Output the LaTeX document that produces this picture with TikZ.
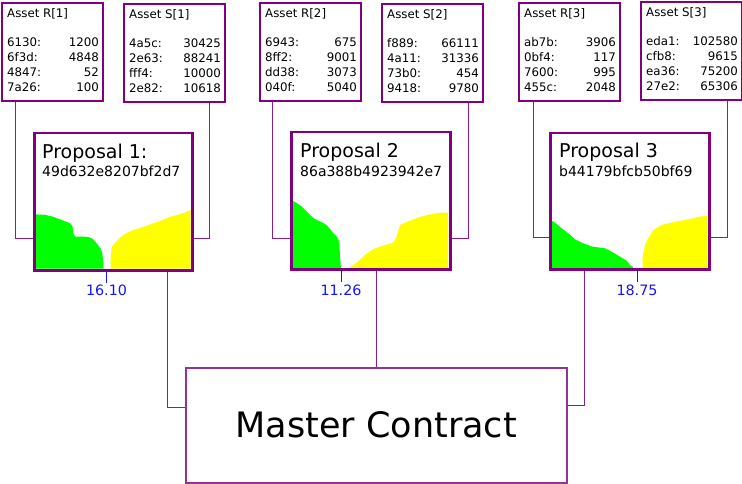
\documentclass[tikz,border=0pt]{standalone}
\usepackage{fontspec}
\setmainfont{DejaVu Sans}
\definecolor{boxpurple}{RGB}{128,0,128}
\definecolor{connpurple}{RGB}{140,30,140}
\definecolor{mpurple}{RGB}{150,50,150}
\definecolor{lblue}{RGB}{20,20,255}
\definecolor{cyellow}{RGB}{255,255,0}
\definecolor{cgreen}{RGB}{0,255,0}
\begin{document}
\begin{tikzpicture}[x=1pt,y=-1pt,
  assetbox/.style={draw=boxpurple, line width=2pt, minimum width=101pt, minimum height=98pt, inner sep=0pt, anchor=north west},
  propbox/.style={draw=boxpurple, line width=2.5pt, minimum width=158pt, minimum height=137pt, inner sep=0pt, anchor=north west},
  masterbox/.style={draw=mpurple, line width=1.5pt, minimum width=381pt, minimum height=115pt, inner sep=0pt, anchor=north west, font=\fontsize{35}{40}\selectfont},
  atext/.style={inner sep=0pt, font=\fontsize{11.8}{14}\selectfont},
  ptitle/.style={inner sep=0pt, anchor=base west, font=\fontsize{19}{22}\selectfont},
  phash/.style={inner sep=0pt, anchor=base west, font=\fontsize{14}{16}\selectfont},
  vlabel/.style={inner sep=0pt, anchor=base, text=lblue, font=\fontsize{14.3}{16}\selectfont},
  conn/.style={draw=connpurple, line width=1pt},
  tickline/.style={draw=lblue, line width=1pt}]
\useasboundingbox (0,0) rectangle (742,484);

% asset boxes
\foreach \nm/\bx/\by/\ttl/\rows in {
  r1/1/2/{Asset R[1]}/{6130:/1200,6f3d:/4848,4847:/52,7a26:/100},
  s1/123/3/{Asset S[1]}/{4a5c:/30425,2e63:/88241,fff4:/10000,2e82:/10618},
  r2/259/2/{Asset R[2]}/{6943:/675,8ff2:/9001,dd38:/3073,040f:/5040},
  s2/381/3/{Asset S[2]}/{f889:/66111,4a11:/31336,73b0:/454,9418:/9780},
  r3/518/2/{Asset R[3]}/{ab7b:/3906,0bf4:/117,7600:/995,455c:/2048},
  s3/640/1/{Asset S[3]}/{eda1:/102580,cfb8:/9615,ea36:/75200,27e2:/65306}}
{
  \node[assetbox] (\nm) at (\bx,\by) {};
  \node[atext, anchor=base west] (\nm-t) at ([shift={(6,16)}]\nm.north west) {\ttl};
  \foreach \k/\v [count=\i] in \rows {
    \node[atext, anchor=base west] (\nm-k\i) at ([shift={(6,30+15*\i)}]\nm.north west) {\k};
    \node[atext, anchor=base east] (\nm-v\i) at ([shift={(-5,30+15*\i)}]\nm.north east) {\v};
  }
}

% charts
\fill[cgreen] (33.5,268.5) -- (33.5,214.3) -- (45,214.8) -- (53,216.7) -- (63,220.5) -- (70,223.3) -- (72.5,226) -- (73.3,233.3) -- (75,236.5) -- (88,236.8) -- (91,238) -- (93.3,239.5) -- (96.7,243.3) -- (99,246.7) -- (101,249) -- (102.5,255) -- (103.3,262) -- (103.5,268.5) -- cycle;
\fill[cyellow] (110.5,268.5) -- (110.5,258) -- (111.7,247) -- (115,243) -- (119,238.5) -- (123.3,235) -- (128,232.5) -- (133.3,230) -- (140,228) -- (146.7,225.7) -- (153,223.5) -- (160,221) -- (165,219) -- (170,216.7) -- (177,215) -- (183.3,213.3) -- (188.3,211) -- (190.5,210) -- (190.5,268.5) -- cycle;
\fill[cgreen] (291,268) -- (291,200) -- (296.7,203) -- (301,206) -- (305,210) -- (310,215) -- (314,218.5) -- (320,221.5) -- (324,223.5) -- (327,225.5) -- (330,229) -- (333,233) -- (336.7,236.7) -- (338.5,240) -- (339.5,244) -- (340,257) -- (341,268) -- cycle;
\fill[cyellow] (350,268) -- (351,266) -- (356.7,262.7) -- (365,255) -- (373.3,249) -- (381.7,246) -- (393,242.7) -- (396,238.3) -- (400,225) -- (410,220.7) -- (418.3,217.3) -- (431.7,214) -- (440,212.8) -- (448,212.5) -- (448,268) -- cycle;
\fill[cgreen] (550,268) -- (550,220.5) -- (551.7,220.7) -- (555,222.7) -- (561.7,228.3) -- (568.3,233.3) -- (575,239.3) -- (581.7,242.7) -- (591.7,246.5) -- (605,248.3) -- (611.7,251.7) -- (620,256.7) -- (626.7,260.7) -- (630,265) -- (633,267) -- (633,268) -- cycle;
\fill[cyellow] (642.7,268) -- (642.7,258) -- (643.3,253.3) -- (645,245) -- (648.3,238.3) -- (653.3,230) -- (661.7,225) -- (675,221.7) -- (688.3,219.3) -- (700,216.7) -- (704.3,216) -- (707,215.8) -- (707,268) -- cycle;

% proposal boxes
\node[propbox] (p1) at (33,132) {};
\node[propbox, minimum width=159pt] (p2) at (290,131) {};
\node[propbox, minimum width=159pt, minimum height=136pt] (p3) at (549,132) {};
\node[ptitle] (p1t) at ([shift={(9,27)}]p1.north west) {Proposal 1:};
\node[phash] (p1h) at ([shift={(9,45)}]p1.north west) {49d632e8207bf2d7};
\node[ptitle] (p2t) at ([shift={(10,27)}]p2.north west) {Proposal 2};
\node[phash] (p2h) at ([shift={(10,45)}]p2.north west) {86a388b4923942e7};
\node[ptitle] (p3t) at ([shift={(10,26)}]p3.north west) {Proposal 3};
\node[phash] (p3h) at ([shift={(10,44)}]p3.north west) {b44179bfcb50bf69};

% master
\node[masterbox] (m) at (185,367) {Master Contract};

% value labels
\node[vlabel] (l1) at (106.5,295.5) {16.10};
\node[vlabel] (l2) at (341,295.5) {11.26};
\node[vlabel] (l3) at (637,295.5) {18.75};
\draw[tickline] (p1.south -| l1.north) -- ++(0,11);
\draw[tickline] (p2.south -| l2.north) -- ++(0,11);
\draw[tickline] (p3.south -| l3.north) -- ++(0,11);

% connectors
\draw[conn] (r1.south -| 15,0) |- (p1.west |- 0,238);
\draw[conn] (s1.south -| 209,0) |- (p1.east |- 0,238);
\draw[conn] (r2.south -| 272,0) |- (p2.west |- 0,238);
\draw[conn] (s2.south -| 468,0) |- (p2.east |- 0,238);
\draw[conn] (r3.south -| 533,0) |- (p3.west |- 0,237);
\draw[conn] (s3.south -| 727,0) |- (p3.east |- 0,237);
\draw[conn] (p1.south -| 167,0) |- (m.west |- 0,407);
\draw[conn] (p2.south -| 376,0) -- (m.north -| 376,0);
\draw[conn] (p3.south -| 584,0) |- (m.east |- 0,405);
\end{tikzpicture}
\end{document}
